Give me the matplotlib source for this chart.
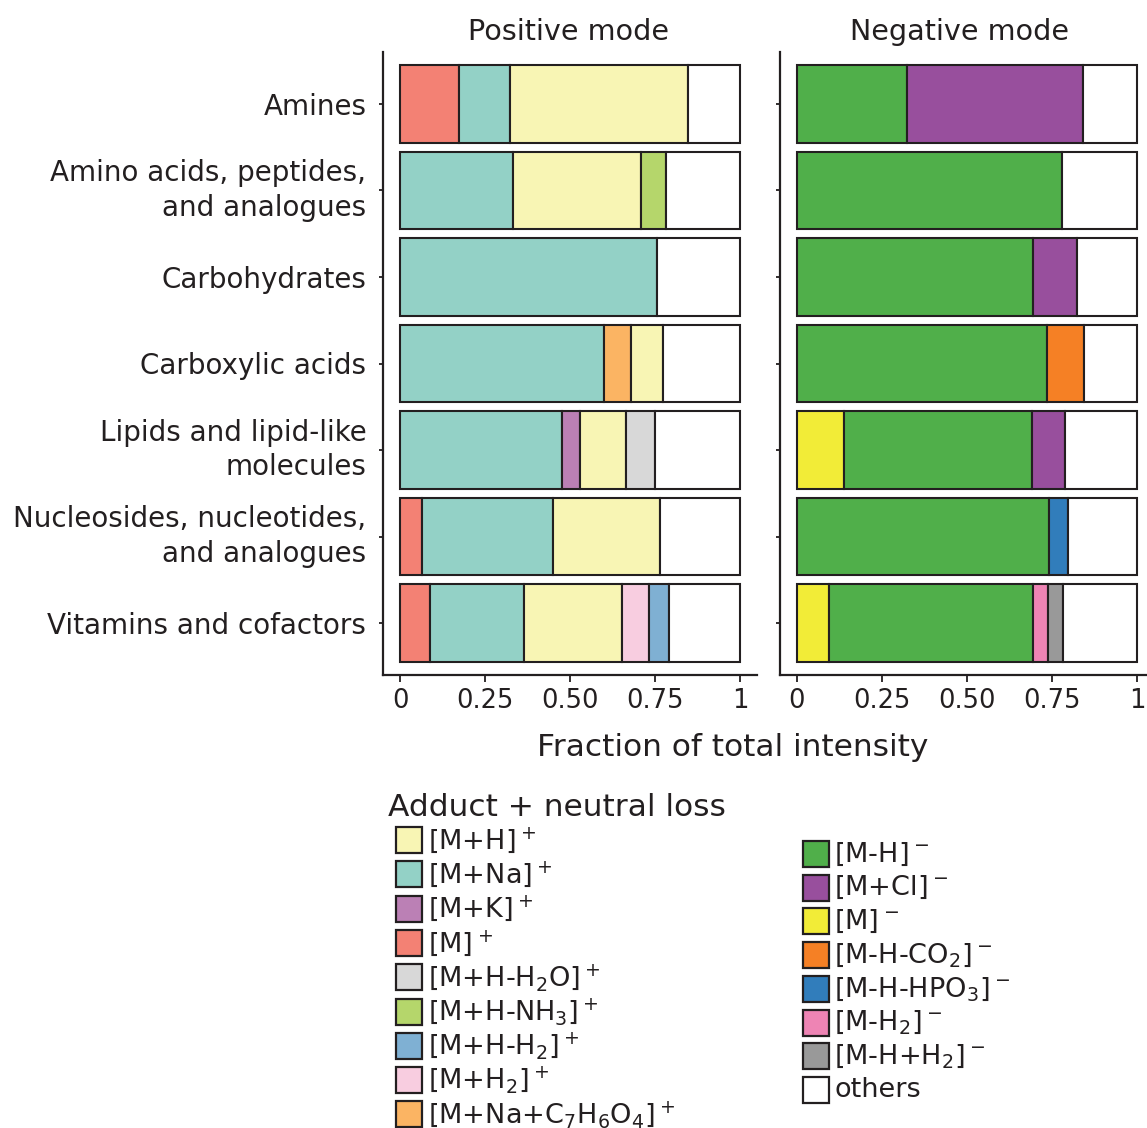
import matplotlib
matplotlib.use("Agg")
import matplotlib.pyplot as plt
from matplotlib.patches import Rectangle
import numpy as np

plt.rcParams['font.family'] = 'DejaVu Sans'
plt.rcParams['mathtext.default'] = 'regular'

categories = ['Amines', 'Amino acids, peptides,\nand analogues', 'Carbohydrates',
              'Carboxylic acids', 'Lipids and lipid-like\nmolecules',
              'Nucleosides, nucleotides,\nand analogues', 'Vitamins and cofactors']

# positive mode fractions, one value per category (top to bottom)
pos_M = [0.174, 0, 0, 0, 0, 0.065, 0.089]
pos_Na = [0.150, 0.333, 0.757, 0.601, 0.476, 0.384, 0.275]
pos_NaC7 = [0, 0, 0, 0.078, 0, 0, 0]
pos_K = [0, 0, 0, 0, 0.054, 0, 0]
pos_H = [0.523, 0.376, 0, 0.095, 0.135, 0.316, 0.288]
pos_H2O = [0, 0, 0, 0, 0.086, 0, 0]
pos_NH3 = [0, 0.072, 0, 0, 0, 0, 0]
pos_H2 = [0, 0, 0, 0, 0, 0, 0.080]
pos_HH2 = [0, 0, 0, 0, 0, 0, 0.059]
pos_others = [0.153, 0.219, 0.243, 0.226, 0.249, 0.235, 0.209]

# negative mode fractions
neg_M = [0, 0, 0, 0, 0.137, 0, 0.095]
neg_MH = [0.323, 0.779, 0.694, 0.735, 0.554, 0.741, 0.600]
neg_Cl = [0.518, 0, 0.129, 0, 0.097, 0, 0]
neg_CO2 = [0, 0, 0, 0.108, 0, 0, 0]
neg_HPO3 = [0, 0, 0, 0, 0, 0.055, 0]
neg_H2 = [0, 0, 0, 0, 0, 0, 0.042]
neg_HH2 = [0, 0, 0, 0, 0, 0, 0.046]
neg_others = [0.159, 0.221, 0.177, 0.157, 0.212, 0.204, 0.217]

lab = {
    'M+H': r'[M+H]$\,^{+}$', 'M+Na': r'[M+Na]$\,^{+}$', 'M+K': r'[M+K]$\,^{+}$',
    'M+': r'[M]$\,^{+}$', 'H2O': r'[M+H-H$_2$O]$\,^{+}$',
    'NH3': r'[M+H-NH$_3$]$\,^{+}$', 'HH2+': r'[M+H-H$_2$]$\,^{+}$',
    'H2+': r'[M+H$_2$]$\,^{+}$', 'NaC7': r'[M+Na+C$_7$H$_6$O$_4$]$\,^{+}$',
    'M-H': r'[M-H]$\,^{-}$', 'Cl': r'[M+Cl]$\,^{-}$', 'M-': r'[M]$\,^{-}$',
    'CO2': r'[M-H-CO$_2$]$\,^{-}$', 'HPO3': r'[M-H-HPO$_3$]$\,^{-}$',
    'H2-': r'[M-H$_2$]$\,^{-}$', 'HH2-': r'[M-H+H$_2$]$\,^{-}$', 'others': 'others',
}
col = {
    'M+H': '#f8f5b4', 'M+Na': '#93d1c6', 'M+K': '#bb80b5', 'M+': '#f38174',
    'H2O': '#d8d8d8', 'NH3': '#b5d66b', 'HH2+': '#7fb0d3', 'H2+': '#f8cde0',
    'NaC7': '#fbb463',
    'M-H': '#50af4a', 'Cl': '#984f9d', 'M-': '#f2ec37', 'CO2': '#f58025',
    'HPO3': '#317dbb', 'H2-': '#ee84b4', 'HH2-': '#999999', 'others': '#ffffff',
}

# stacking order left to right
pos_stack = [('M+', pos_M), ('M+Na', pos_Na), ('NaC7', pos_NaC7), ('M+K', pos_K),
             ('M+H', pos_H), ('H2O', pos_H2O), ('NH3', pos_NH3), ('H2+', pos_H2),
             ('HH2+', pos_HH2), ('others', pos_others)]
neg_stack = [('M-', neg_M), ('M-H', neg_MH), ('Cl', neg_Cl), ('CO2', neg_CO2),
             ('HPO3', neg_HPO3), ('H2-', neg_H2), ('HH2-', neg_HH2),
             ('others', neg_others)]

ink = '#231f20'
W, H = 1147, 1128
fig = plt.figure(figsize=(W / 100, H / 100), dpi=100)

ypos = np.arange(len(categories))[::-1] + 1.0


def draw_panel(ax, stack):
    left = np.zeros(len(categories))
    for key, vals in stack:
        vals = np.asarray(vals, dtype=float)
        m = vals > 0
        ax.barh(ypos[m], vals[m], left=left[m], height=0.9, color=col[key],
                edgecolor=ink, linewidth=1.5)
        left += vals
    ax.set_xlim(-0.05, 1.05)
    ax.set_ylim(0.4, 7.6)
    ax.set_xticks([0, 0.25, 0.5, 0.75, 1])
    ax.set_xticklabels(['0', '0.25', '0.50', '0.75', '1'])
    ax.set_yticks(ypos)
    for s in ['top', 'right']:
        ax.spines[s].set_visible(False)
    for s in ['left', 'bottom']:
        ax.spines[s].set_color(ink)
        ax.spines[s].set_linewidth(1.6)
    ax.tick_params(axis='x', length=5, width=1.3, color=ink, labelsize=18.5,
                   labelcolor=ink, pad=4)
    ax.tick_params(axis='y', length=3, width=1.3, color=ink, labelsize=20,
                   labelcolor=ink, pad=9)


bottom = 1 - 675 / H
height = 623 / H
ax1 = fig.add_axes([383 / W, bottom, 374 / W, height])
ax2 = fig.add_axes([780 / W, bottom, 374 / W, height])
draw_panel(ax1, pos_stack)
draw_panel(ax2, neg_stack)
ax1.set_yticklabels(categories, ha='right', linespacing=1.3)
for t in ax1.get_yticklabels():
    if '\n' in t.get_text():
        t.set_va('center')
ax2.set_yticklabels([])

fig.text(568 / W, 1 - 32 / H, 'Positive mode', ha='center', va='center',
         fontsize=20.6, color=ink)
fig.text(960 / W, 1 - 32 / H, 'Negative mode', ha='center', va='center',
         fontsize=20.6, color=ink)
fig.text(733 / W, 1 - 748 / H, 'Fraction of total intensity', ha='center',
         va='center', fontsize=22.5, color=ink)

# legend, drawn in pixel coordinates
lg = fig.add_axes([0, 0, 1, 1])
lg.set_xlim(0, W)
lg.set_ylim(H, 0)
lg.axis('off')
lg.text(388, 808, 'Adduct + neutral loss', ha='left', va='center',
        fontsize=22.5, color=ink)

pos_legend = ['M+H', 'M+Na', 'M+K', 'M+', 'H2O', 'NH3', 'HH2+', 'H2+', 'NaC7']
neg_legend = ['M-H', 'Cl', 'M-', 'CO2', 'HPO3', 'H2-', 'HH2-', 'others']

for i, key in enumerate(pos_legend):
    yc = 840 + 34.3 * i
    lg.add_patch(Rectangle((396, yc - 13), 26, 26, facecolor=col[key],
                           edgecolor=ink, linewidth=1.6))
    lg.text(428, yc, lab[key], ha='left', va='center', fontsize=19.5, color=ink)

for i, key in enumerate(neg_legend):
    yc = 854 + 33.7 * i
    lg.add_patch(Rectangle((803, yc - 13), 26, 26, facecolor=col[key],
                           edgecolor=ink, linewidth=1.6))
    lg.text(834, yc, lab[key], ha='left', va='center', fontsize=19.5, color=ink)

fig.savefig('out.png', dpi=100)
